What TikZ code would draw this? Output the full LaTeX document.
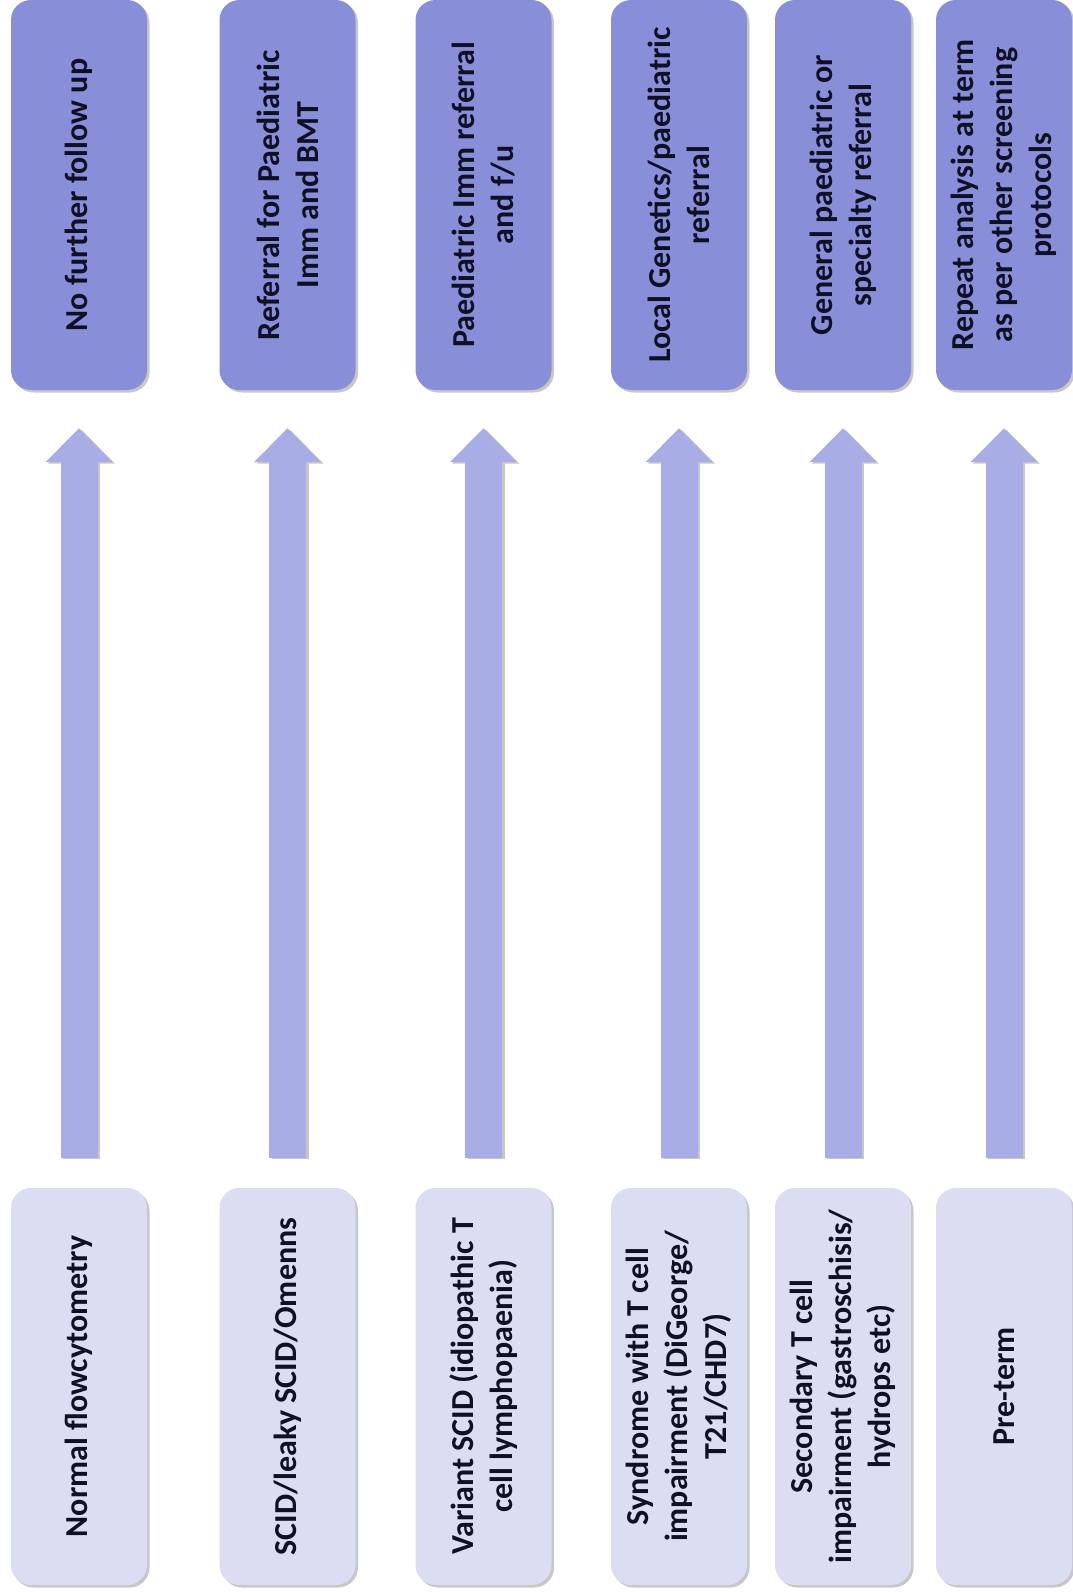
\documentclass[tikz,border=0pt]{standalone}
\usepackage{fontspec}
\setmainfont{Carlito}
\usetikzlibrary{arrows.meta,shadows}
\definecolor{topfill}{RGB}{137,142,216}
\definecolor{botfill}{RGB}{219,221,242}
\definecolor{arrowfill}{RGB}{169,173,230}
\definecolor{txt}{RGB}{16,16,36}
\tikzset{
  boxbase/.style={rounded corners=20pt, minimum width=136pt, inner sep=0pt,
    drop shadow={shadow xshift=2.5pt, shadow yshift=-2.5pt, opacity=0.22, fill=black}},
  topbox/.style={boxbase, fill=topfill, minimum height=390pt},
  botbox/.style={boxbase, fill=botfill, minimum height=397pt},
  label/.style={rotate=90, align=center, text=txt, inner sep=0pt,
    font=\fontsize{32}{39}\selectfont\bfseries},
  uparrow/.style={draw=arrowfill, line width=37pt,
    -{Triangle[width=65pt,length=34pt]},
    shorten <=30pt, shorten >=38pt,
    preaction={draw=black!22, line width=37pt, -{Triangle[width=65pt,length=34pt]},
      shorten <=30pt, shorten >=38pt, transform canvas={xshift=2.5pt,yshift=-1.5pt}}}
}
\begin{document}
\begin{tikzpicture}[x=1pt,y=-1pt]
\useasboundingbox[fill=white] (0,0) rectangle (1072,1592);
% top boxes
\node[topbox] (t1) at (79,195) {};
\node[topbox] (t2) at (287.5,195) {};
\node[topbox] (t3) at (483.5,195) {};
\node[topbox] (t4) at (679,195) {};
\node[topbox] (t5) at (843,195) {};
\node[topbox] (t6) at (1004,195) {};
% bottom boxes
\node[botbox] (b1) at (79,1386.5) {};
\node[botbox] (b2) at (287.5,1386.5) {};
\node[botbox] (b3) at (483.5,1386.5) {};
\node[botbox] (b4) at (679,1386.5) {};
\node[botbox] (b5) at (843,1386.5) {};
\node[botbox] (b6) at (1004,1386.5) {};
% texts
\node[label] (lt1) at (t1.center) {No further follow up};
\node[label] (lt2) at (t2.center) {Referral for Paediatric\\Imm and BMT};
\node[label] (lt3) at (t3.center) {Paediatric Imm referral\\and f/u};
\node[label] (lt4) at (t4.center) {Local Genetics/paediatric\\referral};
\node[label] (lt5) at (t5.center) {General paediatric or\\specialty referral};
\node[label] (lt6) at (t6.center) {Repeat analysis at term\\as per other screening\\protocols};
\node[label] (lb1) at (b1.center) {Normal flowcytometry};
\node[label] (lb2) at (b2.center) {SCID/leaky SCID/Omenns};
\node[label] (lb3) at (b3.center) {Variant SCID (idiopathic T\\cell lymphopaenia)};
\node[label] (lb4) at (b4.center) {Syndrome with T cell\\impairment (DiGeorge/\\T21/CHD7)};
\node[label] (lb5) at (b5.center) {Secondary T cell\\impairment (gastroschisis/\\hydrops etc)};
\node[label] (lb6) at (b6.center) {Pre-term};
% arrows
\foreach \i in {1,...,6}{
  \draw[uparrow] (b\i.north) -- (t\i.south);
}
\end{tikzpicture}
\end{document}
